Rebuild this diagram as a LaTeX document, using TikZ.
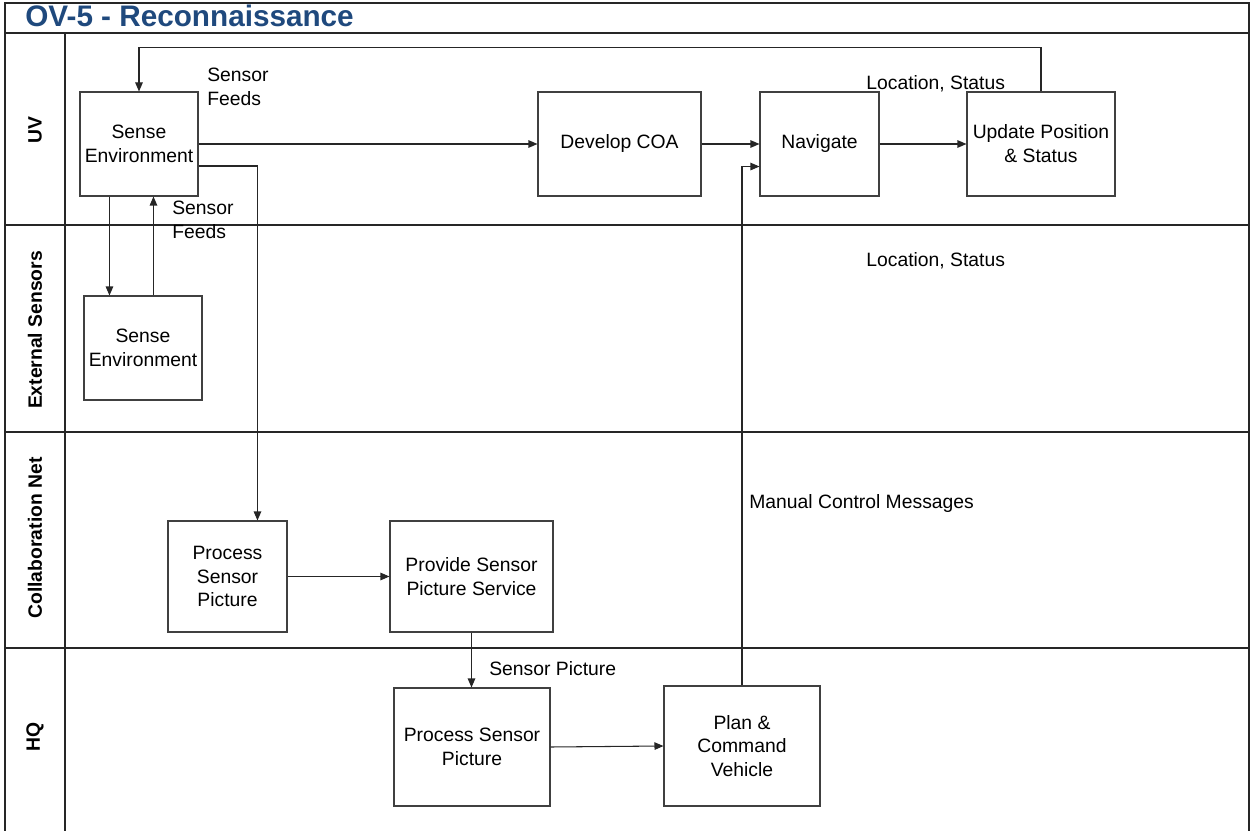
\documentclass[tikz,border=0pt]{standalone}
\usepackage{fontspec}
\setmainfont{Liberation Sans}
\usetikzlibrary{arrows.meta,calc}
\definecolor{titleblue}{RGB}{31,73,125}
\begin{document}
\begin{tikzpicture}[x=0.02cm,y=-0.02cm,
  txt/.style={font=\fontsize{11}{13.6}\selectfont},
  box/.style={draw=black!75,line width=0.6pt,inner sep=0pt,align=center,txt},
  sz/.style 2 args={minimum width=#1*0.02cm,minimum height=#2*0.02cm},
  arr/.style={draw=black!85,line width=0.6pt,-{Triangle[length=1.8mm,width=1.5mm]}},
  frame/.style={draw=black!85,line width=0.7pt},
  lane/.style={rotate=90,font=\fontsize{11}{13}\selectfont\bfseries},
  lbl/.style={txt,anchor=north west,inner sep=0pt,align=left}]
\useasboundingbox (0,0) rectangle (1251,831);
% frame
\draw[frame] (5,831) -- (5,3) -- (1249,3) -- (1249,831);
\draw[frame] (5,33) -- (1249,33);
\draw[frame] (65,33) -- (65,831);
\draw[frame] (5,225) -- (1249,225);
\draw[frame] (5,432) -- (1249,432);
\draw[frame] (5,648) -- (1249,648);
% title
\node[anchor=base west,inner sep=0pt,text=titleblue,font=\fontsize{16.9}{18}\selectfont\bfseries] (title) at (25,27) {OV-5 - Reconnaissance};
% lane labels
\node[lane] (lUV) at (35,130) {UV};
\node[lane] (lES) at (35,330) {External Sensors};
\node[lane] (lCN) at (35,538) {Collaboration Net};
\node[lane] (lHQ) at (35,737) {HQ};
% boxes
\node[box,sz={118}{104}] (seuv) at (139,144) {Sense\\Environment};
\node[box,sz={163}{104}] (coa) at (619.5,144) {Develop COA};
\node[box,sz={119}{104}] (nav) at (819.5,144) {Navigate};
\node[box,sz={148}{104}] (upd) at (1041,144) {Update Position\\\& Status};
\node[box,sz={118}{104}] (seext) at (143,348) {Sense\\Environment};
\node[box,sz={119}{111}] (psp) at (227.5,576.5) {Process\\Sensor\\Picture};
\node[box,sz={163}{111}] (prov) at (471.5,576.5) {Provide Sensor\\Picture Service};
\node[box,sz={156}{118}] (hqp) at (472,747) {Process Sensor\\Picture};
\node[box,sz={156}{120}] (plan) at (742,746) {Plan \&\\Command\\Vehicle};
% connectors
\draw[arr] (upd.north) -- ++(0,-44) -| (seuv.north);
\draw[arr] (seuv.east) -- (coa.west);
\draw[arr] (coa.east) -- (nav.west);
\draw[arr] (nav.east) -- (upd.west);
\coordinate (b1) at ($(seuv.east)+(0,22)$);
\coordinate (t1) at ($(psp.north west)+(90,0)$);
\draw[arr] (b1) -| (t1);
\coordinate (d1) at ($(seuv.south west)+(30,0)$);
\draw[arr] (d1) -- (d1 |- seext.north);
\coordinate (u1) at ($(seext.north west)+(70,0)$);
\draw[arr] (u1) -- (u1 |- seuv.south);
\draw[arr] (psp.east) -- (prov.west);
\draw[arr] (prov.south) -- (prov.south |- hqp.north);
\draw[arr] (hqp.east) -- (plan.west);
\coordinate (n1) at ($(nav.south west)+(0,-30)$);
\draw[arr] (plan.north) |- (n1);
% labels
\node[lbl] (sf1) at (207,68) {Sensor\\Feeds};
\node[lbl] (sf2) at (172,201) {Sensor\\Feeds};
\node[lbl] (ls1) at (866,75) {Location, Status};
\node[lbl] (ls2) at (866,252) {Location, Status};
\node[lbl] (mcm) at (749,494) {Manual Control Messages};
\node[lbl] (sp) at (489,661) {Sensor Picture};
\end{tikzpicture}
\end{document}
